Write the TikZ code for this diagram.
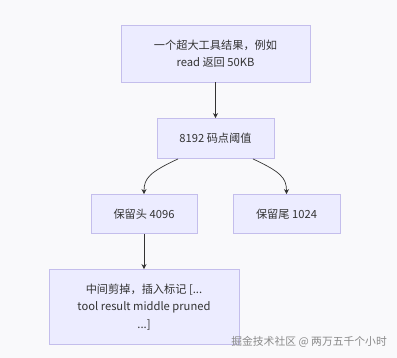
\documentclass[tikz,border=0pt]{standalone}
\usepackage{fontspec}
\newfontfamily\cjk{Noto Sans CJK SC}
\usetikzlibrary{arrows.meta,positioning}
\definecolor{bggray}{HTML}{F9F9FB}
\definecolor{boxfill}{HTML}{ECECFF}
\definecolor{boxline}{HTML}{C4BEEC}
\definecolor{textgray}{HTML}{333333}
\definecolor{linkgray}{HTML}{333333}
\definecolor{markgray}{HTML}{8A8A8A}
\begin{document}
\begin{tikzpicture}[x=1pt,y=-1pt,
    flowbox/.style={draw=boxline, fill=boxfill, line width=0.9pt, text=textgray, align=center, inner sep=0pt, font=\cjk\fontsize{11.2}{17.5}\selectfont},
    link/.style={draw=linkgray, line width=0.7pt, -{Stealth[length=5pt,width=5pt]}}]
    % background
    \fill[bggray] (0,0) rectangle (397,358);

    % Tool result
    \node[flowbox, minimum width=189pt, minimum height=57pt] (result) at (215.5,53.5) {一个超大工具结果，例如\\read 返回 50KB};

    % Threshold
    \node[flowbox, minimum width=117pt, minimum height=40pt] (limit) at (215.5,138.5) {8192 码点阈值};

    % Head and tail
    \node[flowbox, minimum width=106pt, minimum height=39pt] (head) at (144,214) {保留头 4096};
    \node[flowbox, minimum width=107pt, minimum height=39pt] (tail) at (286.5,214) {保留尾 1024};

    % Pruned middle
    \node[flowbox, minimum width=190pt, minimum height=75pt] (pruned) at (144,307) {中间剪掉，插入标记 [...\\tool result middle pruned\\...]};

    % links
    \draw[link] (result.south) -- (limit.north);
    \draw[link] (limit.south -| 178,0) .. controls (150,172) and (144,178) .. (head.north);
    \draw[link] (limit.south -| 253,0) .. controls (281,172) and (286.5,178) .. (tail.north);
    \draw[link] (head.south) -- (pruned.north);

    % watermark
    \node[anchor=east, inner sep=0pt, text=markgray, font=\cjk\fontsize{10.8}{12}\selectfont] (mark) at (387,342) {掘金技术社区 @ 两万五千个小时};
\end{tikzpicture}
\end{document}
